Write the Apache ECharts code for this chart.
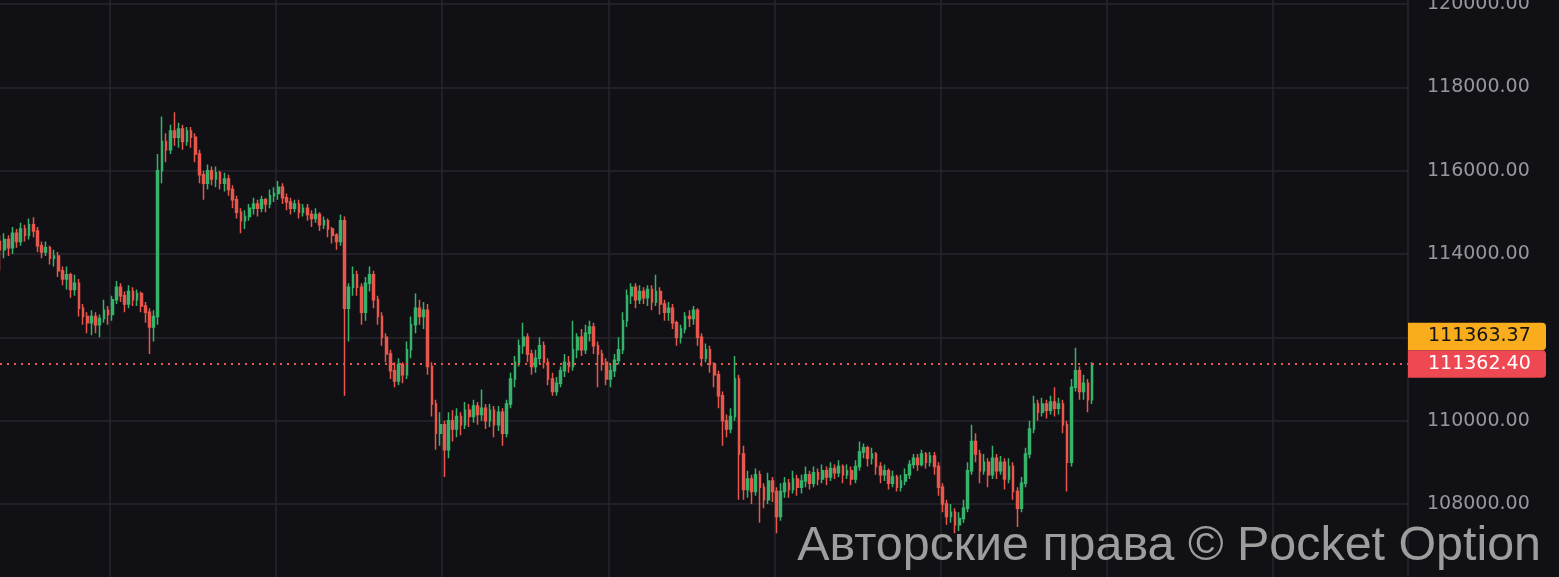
<!DOCTYPE html>
<html>
<head>
<meta charset="utf-8">
<script src="https://cdn.jsdelivr.net/npm/echarts@6/dist/echarts.min.js"></script>
<style>
html,body{margin:0;padding:0;background:#111115;overflow:hidden;}
#c{width:1559px;height:577px;}
</style>
</head>
<body>
<div id="c"></div>
<script>
// time index of first visible candle (grid lines every 40 candles)
const firstIndex = 13.5;
const xMax = 352.6;
const xStep = 40;
const yMin = 106000;
const yMax = 122000;
const yStep = 2000;
const askPrice = 111363.37;
const lastPrice = 111362.40;
const watermark = 'Авторские права © Pocket Option';

// [open, close, low, high]
const candles = [
[114300,114100,113600,114450],[114100,114350,113900,114500],[114350,114150,113950,114450],[114150,114500,114000,114650],
[114500,114300,114150,114600],[114300,114600,114200,114750],[114600,114450,114300,114700],[114450,114700,114350,114850],
[114700,114550,114400,114880],[114550,114200,114050,114650],[114200,114050,113900,114300],[114050,114150,113950,114300],
[114150,113900,113750,114200],[113900,113950,113700,114100],[113950,113600,113450,114050],[113600,113400,113250,113700],
[113400,113500,113150,113700],[113500,113150,112950,113550],[113150,113300,113000,113500],[113300,112700,112500,113400],
[112700,112500,112300,112800],[112500,112350,112100,112600],[112350,112500,112050,112650],[112500,112300,112100,112600],
[112300,112450,112000,112550],[112450,112650,112350,112900],[112650,112550,112300,112750],[112550,112900,112400,113000],
[112900,113200,112800,113350],[113200,113000,112850,113300],[113000,112800,112600,113100],[112800,113100,112700,113250],
[113100,112900,112750,113200],[112900,113050,112750,113150],[113050,112750,112600,113100],[112750,112600,112350,112850],
[112600,112250,111600,112700],[112250,112500,111900,112650],[112500,116000,112300,116400],[116000,116700,115700,117300],
[116700,116500,116200,116900],[116500,116950,116400,117100],[116950,116800,116600,117400],[116800,117000,116550,117150],
[117000,116700,116500,117100],[116700,116950,116600,117050],[116950,116800,116550,117050],[116800,116400,116200,116900],
[116400,115900,115700,116500],[115900,115700,115300,116000],[115700,116000,115550,116150],[116000,115800,115650,116100],
[115800,115950,115600,116100],[115950,115700,115550,116000],[115700,115800,115500,115950],[115800,115550,115400,115900],
[115550,115300,115100,115650],[115300,115000,114850,115400],[115000,114800,114500,115100],[114800,114900,114600,115050],
[114900,115100,114800,115200],[115100,115200,114950,115350],[115200,115100,114900,115300],[115100,115300,115000,115400],
[115300,115200,115000,115350],[115200,115400,115100,115550],[115400,115450,115250,115600],[115450,115600,115300,115750],
[115600,115350,115200,115700],[115350,115250,115050,115450],[115250,115100,114950,115350],[115100,115200,115000,115300],
[115200,115000,114850,115300],[115000,115100,114900,115200],[115100,114950,114800,115200],[114950,114850,114650,115050],
[114850,114950,114750,115100],[114950,114700,114550,115000],[114700,114800,114600,114900],[114800,114600,114400,114850],
[114600,114450,114250,114650],[114450,114300,114100,114500],[114300,114800,114200,114950],[114800,112700,110600,114900],
[112700,113200,111900,113300],[113200,113500,113000,113700],[113500,113200,113000,113600],[113200,112600,112300,113300],
[112600,113300,112400,113450],[113300,113500,113100,113700],[113500,112900,112700,113600],[112900,112500,112300,113000],
[112500,112000,111800,112600],[112000,111600,111400,112100],[111600,111200,111000,111700],[111200,110950,110800,111400],
[110950,111350,110850,111500],[111350,111100,110900,111400],[111100,111700,111000,111900],[111700,112300,111500,112500],
[112300,112700,112100,113050],[112700,112500,112300,112900],[112500,112650,112200,112850],[112650,111300,111100,112800],
[111300,110400,110100,111400],[110400,109700,109300,110500],[109700,109900,109400,110200],[109900,109300,108650,110000],
[109300,110000,109100,110200],[110000,109800,109500,110250],[109800,110100,109600,110300],[110100,109900,109650,110200],
[109900,110250,109800,110450],[110250,110100,109850,110400],[110100,110350,109950,110500],[110350,110150,109900,110450],
[110150,110300,110000,110750],[110300,110000,109800,110400],[110000,110250,109850,110400],[110250,109900,109600,110350],
[109900,110200,109750,110350],[110200,109700,109400,110300],[109700,110400,109600,110500],[110400,111000,110300,111150],
[111000,111400,110800,111550],[111400,111800,111300,111950],[111800,112000,111600,112350],[112000,111600,111400,112100],
[111600,111300,111100,111700],[111300,111500,111150,111700],[111500,111800,111350,112000],[111800,111400,111250,111900],
[111400,111000,110850,111500],[111000,110700,110600,111150],[110700,110900,110600,111050],[110900,111200,110800,111300],
[111200,111400,111050,111600],[111400,111300,111150,111550],[111300,111700,111200,112400],[111700,112000,111500,112100],
[112000,111700,111550,112200],[111700,112100,111600,112300],[112100,112250,111900,112400],[112250,111800,111600,112350],
[111800,111600,110800,111900],[111600,111400,111200,111700],[111400,111000,110850,111500],[111000,111200,110800,111350],
[111200,111450,111050,111600],[111450,111700,111350,112000],[111700,112400,111600,112600],[112400,113000,112250,113150],
[113000,113200,112800,113300],[113200,112900,112700,113300],[112900,113100,112800,113250],[113100,112950,112800,113200],
[112950,113150,112750,113250],[113150,112850,112650,113250],[112850,113100,112750,113500],[113100,112800,112550,113200],
[112800,112600,112400,112900],[112600,112700,112400,112850],[112700,112350,112200,112800],[112350,112000,111800,112400],
[112000,112200,111850,112300],[112200,112500,112100,112600],[112500,112450,112250,112650],[112450,112650,112300,112750],
[112650,112000,111800,112700],[112000,111500,111300,112100],[111500,111700,111400,111850],[111700,111350,111150,111800],
[111350,111100,110800,111400],[111100,110600,110300,111200],[110600,110000,109400,110700],[110000,109800,109600,110150],
[109800,110100,109700,110300],[110100,111000,110000,111550],[111000,109200,108100,111100],[109200,108350,108100,109400],
[108350,108600,108150,108800],[108600,108300,108000,108700],[108300,108700,108200,108850],[108700,108400,107550,108800],
[108400,108100,107900,108500],[108100,108550,108000,108750],[108550,108300,108050,108650],[108300,107700,107300,108400],
[107700,108300,107600,108500],[108300,108500,108150,108650],[108500,108350,108150,108600],[108350,108600,108250,108800],
[108600,108400,108200,108700],[108400,108550,108250,108700],[108550,108700,108400,108900],[108700,108500,108350,108800],
[108500,108750,108400,108900],[108750,108600,108450,108850],[108600,108800,108500,108950],[108800,108650,108450,108900],
[108650,108850,108550,109000],[108850,108750,108600,108950],[108750,108900,108650,109050],[108900,108700,108500,108950],
[108700,108800,108600,108950],[108800,108600,108450,108900],[108600,108900,108500,109050],[108900,109250,108800,109500],
[109250,109350,109100,109450],[109350,109100,108900,109400],[109100,109200,108950,109350],[109200,108900,108700,109250],
[108900,108700,108500,109000],[108700,108800,108550,108950],[108800,108500,108350,108850],[108500,108650,108400,108800],
[108650,108400,108300,108700],[108400,108550,108300,108700],[108550,108700,108450,108850],[108700,108950,108600,109050],
[108950,109100,108850,109200],[109100,108950,108800,109200],[108950,109200,108900,109300],[109200,109000,108850,109250],
[109000,109150,108900,109250],[109150,108900,108700,109250],[108900,108400,108200,109000],[108400,108000,107800,108500],
[108000,107700,107500,108100],[107700,107800,107550,108000],[107800,107500,107300,107900],[107500,107650,107350,107800],
[107650,107900,107550,108100],[107900,108800,107800,109000],[108800,109500,108700,109900],[109500,109200,109000,109700],
[109200,108800,108500,109300],[108800,109000,108700,109200],[109000,108700,108400,109100],[108700,109100,108600,109400],
[109100,108800,108600,109200],[108800,109000,108700,109150],[109000,108600,108350,109100],[108600,108900,108500,109100],
[108900,108300,108100,109000],[108300,107900,107450,108400],[107900,108500,107800,108650],[108500,109200,108400,109350],
[109200,109800,109100,110000],[109800,110400,109700,110600],[110400,110200,110000,110500],[110200,110400,110100,110550],
[110400,110250,110050,110500],[110250,110450,110150,110600],[110450,110300,110100,110800],[110300,110400,110150,110550],
[110400,109900,109700,110500],[109900,109000,108300,110000],[109000,110800,108900,111000],[110800,111200,110700,111750],
[111200,110700,110500,111300],[110700,110900,110500,111100],[110900,110500,110200,111000],[110500,111362.40,110400,111400]
];

const upColor = '#36b36b';
const downColor = '#e9564b';
const gridColor = '#26262c';
const axisColor = '#55555b';
const labelColor = '#97979d';
const labelFont = '"DejaVu Sans", sans-serif';

const chart = echarts.init(document.getElementById('c'), null, {renderer: 'canvas'});
const seriesData = candles.map((c, i) => [firstIndex + i, c[0], c[1], c[2], c[3]]);

chart.setOption({
  animation: false,
  backgroundColor: '#111115',
  grid: {left: -56, right: 151, top: -79.3, bottom: -10.3, containLabel: false, outerBoundsMode: 'none'},
  xAxis: {
    type: 'value', min: 0, max: xMax, interval: xStep,
    axisLine: {show: false}, axisTick: {show: false}, axisLabel: {show: false},
    splitLine: {show: true, lineStyle: {color: gridColor, width: 1.5}}
  },
  yAxis: {
    type: 'value', position: 'right', min: yMin, max: yMax, interval: yStep, scale: true,
    axisLine: {show: true, lineStyle: {color: axisColor, width: 1.5}},
    axisTick: {show: false},
    axisLabel: {color: labelColor, fontSize: 19, fontFamily: labelFont, margin: 19,
      formatter: v => v.toFixed(2)},
    splitLine: {show: true, lineStyle: {color: gridColor, width: 1.5}}
  },
  series: [{
    type: 'candlestick',
    data: seriesData,
    encode: {x: 0, y: [1, 2, 3, 4]},
    barWidth: 2.2,
    itemStyle: {color: upColor, color0: downColor, borderColor: upColor, borderColor0: downColor, borderWidth: 1.5},
    markLine: {
      silent: true, symbol: ['none', 'none'], animation: false,
      label: {show: false},
      lineStyle: {color: downColor, type: [2, 5], width: 2},
      data: [{yAxis: lastPrice}]
    }
  }]
});

const axisX = chart.convertToPixel({xAxisIndex: 0}, xMax);
const lastY = chart.convertToPixel({yAxisIndex: 0}, lastPrice);
const tagW = 138, tagH = 27.5;
chart.setOption({
  graphic: [
    {type: 'rect', z: 100, shape: {x: axisX, y: lastY - tagH * 1.5, width: tagW, height: tagH, r: [0, 4, 4, 0]}, style: {fill: '#f9ac1c'}},
    {type: 'text', z: 101, style: {x: axisX + 20, y: lastY - tagH, text: askPrice.toFixed(2), fill: '#141414', font: '19px ' + labelFont, verticalAlign: 'middle'}},
    {type: 'rect', z: 100, shape: {x: axisX, y: lastY - tagH / 2, width: tagW, height: tagH, r: [0, 4, 4, 0]}, style: {fill: '#ee4853'}},
    {type: 'text', z: 101, style: {x: axisX + 20, y: lastY, text: lastPrice.toFixed(2), fill: '#ffffff', font: '19px ' + labelFont, verticalAlign: 'middle'}},
    {type: 'text', z: 102, right: 18, top: 523, style: {text: watermark, fill: '#9d9d9d', font: '48.4px "Liberation Sans", Arial, sans-serif'}}
  ]
});
</script>
</body>
</html>
